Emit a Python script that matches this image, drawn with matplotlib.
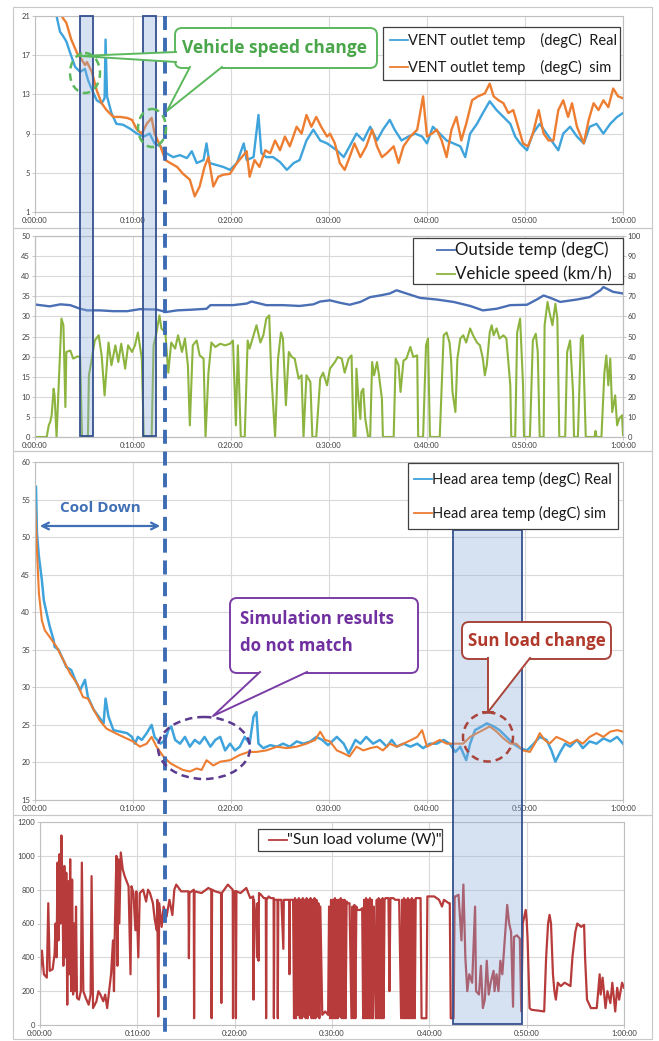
import matplotlib
matplotlib.use('Agg')
import matplotlib.pyplot as plt
from matplotlib.patches import Rectangle, FancyBboxPatch, Ellipse, Polygon

plt.rcParams['font.family'] = ['Lato', 'DejaVu Sans']

# ---- data (minutes, values) ----
time_labels = ['0:00:00', '0:10:00', '0:20:00', '0:30:00', '0:40:00', '0:50:00', '1:00:00']

vent_real_t = [2.2, 2.55, 2.9, 3.2, 3.6, 4.1, 4.6, 5.1, 5.4, 5.8, 6.3, 6.8, 7.1, 7.2, 7.35, 7.8, 8.3, 9.0, 9.7, 10.4,
               11.1, 11.7, 12.2, 12.8, 13.4, 14.1, 14.8, 15.5, 16.0, 16.5, 17.2, 17.5, 17.8, 18.5, 19.2, 19.9, 20.6,
               21.3, 21.6, 22.3, 22.8, 23.1, 23.6, 24.3, 25.0, 25.7, 26.4, 27.0, 27.7, 28.4, 29.1, 29.8,
               30.8, 31.5, 32.1, 32.8, 33.5, 34.2, 34.9, 35.5, 36.2, 36.7, 37.4, 38.1, 38.8, 39.5, 40.0, 40.6, 41.3,
               42.0, 42.7, 43.4, 43.9, 44.4, 45.1, 45.7, 46.4, 47.1, 47.8, 48.5, 49.0, 49.5, 50.2, 50.8, 51.5, 52.2,
               52.9, 53.4, 53.9, 54.6, 55.3, 56.0, 56.6, 57.3, 58.0, 58.7, 59.4, 60.0]
vent_real = [21.0, 19.4, 18.9, 18.4, 17.2, 15.8, 15.3, 15.6, 14.5, 13.5, 12.4, 12.1, 12.6, 18.6, 12.8, 11.1, 10.0, 9.9,
             9.5, 9.0, 8.7, 9.0, 8.0, 7.7, 7.0, 6.6, 6.8, 6.5, 7.2, 6.0, 6.3, 8.0, 6.0, 5.8, 5.6, 5.3, 6.0, 8.0, 6.3,
             6.6, 10.9, 7.0, 6.6, 6.6, 6.1, 5.3, 6.0, 6.3, 8.3, 9.4, 8.3, 8.0,
             7.3, 6.6, 7.7, 9.0, 8.3, 9.7, 8.3, 9.4, 10.4, 9.4, 8.3, 8.7, 9.0, 8.7, 8.0, 9.7, 9.0, 8.3, 8.0, 7.7, 6.6,
             9.0, 10.0, 11.1, 12.3, 11.4, 10.7, 10.0, 8.7, 8.0, 7.3, 9.0, 10.0, 9.0, 8.0, 7.3, 9.0, 9.7, 8.7, 8.0, 9.7,
             10.0, 9.0, 10.0, 10.7, 11.1]

vent_sim_t = [2.7, 3.2, 3.7, 4.3, 4.8, 5.1, 5.3, 5.8, 6.3, 6.8, 7.3, 8.0, 8.7, 9.4, 9.9, 10.4, 10.9, 11.4, 11.9, 12.2,
              12.8, 13.3, 13.8, 14.5, 15.1, 15.8, 16.3, 16.8, 17.3, 17.7, 18.2, 18.7, 19.2, 19.9, 20.6, 21.1, 21.6,
              21.9, 22.4, 22.9, 23.5, 24.0, 24.5, 25.0, 25.5, 26.0, 26.7, 27.2, 27.7, 28.2, 28.7, 29.2, 29.8, 30.1,
              30.6, 31.1, 31.6, 32.1, 32.6, 33.2, 33.8, 34.4, 34.9, 35.4, 35.9, 36.6, 37.1, 37.6, 38.3, 39.0, 39.6,
              40.0, 40.5, 41.0, 41.5, 42.0, 42.5, 43.0, 43.5, 44.0, 44.6, 45.2, 45.9, 46.4, 46.8, 47.3, 47.8, 48.3,
              48.8, 49.3, 49.8, 50.3, 50.8, 51.4, 51.9, 52.4, 52.9, 53.4, 53.9, 54.4, 54.8, 55.3, 56.0, 56.5, 57.0,
              57.5, 58.0, 58.5, 59.0, 59.5, 60.0]
vent_sim = [21.0, 20.3, 18.6, 17.2, 16.5, 16.0, 16.3, 15.3, 13.4, 12.1, 11.4, 10.7, 10.7, 10.6, 10.4, 9.4, 9.0, 10.0,
            10.6, 9.0, 7.7, 6.3, 6.0, 5.6, 4.9, 4.3, 2.6, 3.6, 5.6, 6.6, 3.6, 4.6, 4.8, 4.9, 6.0, 6.6, 7.2, 4.6, 6.3,
            5.6, 7.3, 7.0, 8.3, 7.3, 8.7, 7.7, 9.7, 9.0, 10.9, 9.7, 10.7, 9.7, 8.7, 9.0, 8.0, 6.0, 5.3, 6.6, 8.0, 6.6,
            7.7, 9.4, 7.7, 6.6, 7.0, 7.7, 6.0, 7.7, 8.7, 9.4, 12.8, 8.7, 9.0, 9.4, 8.3, 6.6, 9.4, 10.7, 8.3, 10.0,
            12.4, 12.8, 13.1, 14.1, 12.8, 12.4, 12.1, 11.1, 11.4, 9.7, 8.0, 7.7, 9.0, 11.4, 9.0, 8.3, 8.3, 11.4, 12.4,
            10.7, 12.1, 9.7, 8.0, 10.4, 12.1, 11.4, 12.4, 11.7, 13.6, 12.8, 12.6]

outside_t = [0.2, 1.5, 2.6, 3.6, 4.6, 5.3, 6.6, 8.0, 9.4, 10.7, 12.4, 13.4, 14.5, 16.2, 17.5, 17.9, 20.2, 21.6, 22.1,
             22.6, 23.6, 25.3, 27.0, 28.4, 29.1, 30.1, 31.1, 32.1, 33.2, 34.2, 35.2, 36.2, 36.9, 37.9, 39.3, 41.0,
             42.7, 44.4, 45.7, 47.1, 48.5, 50.2, 51.2, 51.9, 52.6, 53.6, 55.3, 56.6, 57.7, 58.0, 59.0, 60.0]
outside_temp = [32.9, 32.5, 33.0, 32.8, 31.9, 31.5, 31.5, 31.3, 31.3, 31.8, 31.7, 31.1, 31.5, 31.7, 31.9, 32.8, 32.8,
                33.2, 33.7, 33.4, 32.8, 32.8, 32.6, 33.0, 33.7, 34.0, 33.4, 32.9, 33.6, 34.8, 35.2, 35.7, 36.5, 35.7,
                34.6, 34.2, 33.6, 32.6, 31.5, 31.9, 32.8, 32.9, 34.2, 35.2, 34.6, 33.6, 34.2, 34.8, 36.5, 37.3, 36.1,
                35.7]

speed_t = [0.2, 1.2, 1.4, 1.55, 1.7, 1.9, 2.0, 2.2, 2.5, 2.7, 2.9, 3.1, 3.2, 3.6, 3.9, 4.3, 4.6, 4.8, 5.4, 5.5, 5.8,
           6.1, 6.5, 6.8, 7.1, 7.5, 7.8, 8.2, 8.5, 8.8, 9.2, 9.5, 9.9, 10.2, 10.5, 10.9, 11.1, 11.9, 12.1, 12.4, 12.7,
           12.9, 13.3, 13.6, 13.9, 14.3, 14.6, 15.0, 15.3, 15.6, 15.8, 16.1, 16.5, 16.8, 17.2, 17.4, 17.7, 18.0, 18.4,
           18.9, 19.4, 19.9, 20.2, 20.5, 20.7, 21.0, 21.4, 21.7, 21.9, 22.3, 22.6, 23.0, 23.3, 23.6, 23.9, 24.1, 24.5,
           24.8, 25.1, 25.3, 25.6, 25.9, 26.2, 26.5, 26.9, 27.2, 27.4, 27.7, 28.1, 28.3, 28.7, 29.1, 29.4, 29.8,
           30.1, 30.6, 30.9, 31.3, 31.6, 32.0, 32.3, 32.5, 32.7, 32.8, 33.0, 33.2, 33.3, 33.5, 33.7, 34.0, 34.2, 34.4,
           34.6, 34.9, 35.1, 35.4, 35.5, 36.6, 36.8, 37.1, 37.3, 37.6, 37.9, 38.3, 38.6, 39.0, 39.1, 39.6, 39.9, 40.1,
           40.3, 41.3, 41.7, 42.0, 42.3, 42.45, 42.6, 42.9, 43.1, 43.4, 43.7, 44.0, 44.4, 44.7, 45.1, 45.4, 45.7,
           45.9, 46.1, 46.4, 46.6, 46.8, 47.1, 47.4, 47.8, 48.1, 48.5, 48.6, 49.0, 49.2, 49.5, 49.8, 49.9, 50.5, 50.8,
           51.1, 51.3, 51.5, 51.9, 52.0, 52.3, 52.5, 52.8, 53.1, 53.3, 53.5, 54.1, 54.3, 54.6, 54.9, 55.0, 55.4, 55.7,
           55.9, 56.2, 57.1, 57.2, 57.3, 57.8, 58.1, 58.3, 58.5, 58.7, 58.9, 59.2, 59.4, 59.6, 59.9, 60.0]
speed = [0, 0, 5.8, 7.5, 10.8, 24, 20.7, 0, 35.7, 58.9, 55.6, 14.9, 42.3, 43, 39, 40, 40, 0, 0, 30.7, 39,
         48, 50.6, 40.6, 20.7, 47, 35.7, 45.6, 37.3, 46.4, 34, 45.6, 42.3, 45.6, 52, 39, 0, 0, 45.6, 52, 60.5,
         54, 52, 32, 47, 44, 50.6, 42.3, 49, 35.7, 5.8, 45.6, 48, 40.6, 39, 0, 32, 47, 44.8,
         46.4, 45.6, 46.4, 48, 5.8, 45.6, 0, 0, 48, 44, 50.6, 55.6, 47, 50.6, 58.9, 60.5, 32, 0,
         39, 52, 49, 15.8, 42.3, 39.8, 39, 29, 30.7, 0, 30.7, 27.4, 0, 0, 29, 32, 25.7,
         34, 37.3, 39.8, 39, 32, 39, 40.6, 0, 0, 34, 19, 9, 22.4, 24, 9, 0, 0, 37.3,
         30.7, 37.3, 30.7, 19, 0, 0, 39, 35.7, 22.4, 38, 39, 44.8, 39.8, 40.6, 0, 0, 45.6, 49,
         0, 0, 50.6, 52, 47, 39, 22.4, 12.4, 39, 49, 50.6, 47, 54, 50.6, 47, 45.6, 39,
         30.7, 35.7, 52, 55.6, 50.6, 54, 49, 50.6, 49, 25.7, 0, 0, 52, 58.9, 25.7, 0, 0, 48,
         51.4, 42.3, 0, 0, 55.6, 67.2, 62, 55.6, 66.3, 58.9, 0, 0, 42.3, 48, 22.4, 0, 0, 49,
         50.6, 0, 0, 3, 0, 0, 32, 40.6, 25.7, 39, 12.4, 20.7, 5.8, 9, 10.8, 1]

head_real_t = [0.1, 0.2, 0.4, 0.7, 0.9, 1.2, 1.5, 1.9, 2.0, 2.4, 2.9, 3.2, 3.7, 4.1, 4.6, 5.1, 5.4, 6.0, 6.5, 7.0, 7.2,
               7.5, 8.0, 8.7, 9.4, 9.9, 10.2, 10.5, 10.9, 11.4, 11.9, 12.2, 12.8, 13.3, 13.6, 13.9, 14.3, 14.8, 15.3,
               15.8, 16.3, 16.8, 17.3, 17.9, 18.4, 18.9, 19.4, 19.9, 20.4, 20.9, 21.4, 21.9, 22.3, 22.6, 22.8, 23.3,
               24.0, 24.7, 25.3, 26.0, 26.7, 27.4, 28.1, 28.7, 29.3, 29.9,
               30.8, 31.5, 32.0, 32.7, 33.2, 33.8, 34.5, 35.2, 35.9, 36.4, 36.9, 37.6, 38.3, 39.0, 39.6, 40.3, 41.0,
               41.7, 42.3, 42.9, 43.4, 44.0, 44.4, 44.9, 45.6, 46.1, 46.8, 47.4, 48.1, 48.8, 49.5, 50.2, 50.9, 51.5,
               52.2, 52.7, 53.1, 53.6, 54.1, 54.6, 55.3, 55.9, 56.6, 57.3, 58.0, 58.7, 59.4, 60.0]
head_real = [56.7, 50.5, 47.4, 44.3, 41.6, 39.8, 38.1, 36.3, 35.4, 35.0, 33.6, 32.7, 32.3, 31.0, 29.6, 31.0, 28.7, 27.0,
             26.1, 25.2, 28.5, 26.1, 24.3, 24.1, 23.9, 23.4, 22.5, 23.4, 23.0, 23.9, 25.0, 23.4, 22.5, 23.0, 24.3,
             24.8, 23.0, 22.5, 23.4, 22.1, 23.0, 22.5, 23.4, 22.1, 23.0, 23.4, 21.6, 22.5, 21.6, 22.1, 23.4, 22.5,
             26.1, 26.7, 22.5, 21.9, 22.3, 22.1, 22.5, 22.1, 22.8, 22.5, 22.8, 23.4, 23.0, 22.3,
             23.4, 22.5, 21.2, 23.0, 22.5, 23.4, 22.5, 23.0, 22.1, 23.0, 22.1, 22.5, 22.1, 22.5, 21.9, 22.5, 22.5,
             23.0, 22.5, 21.4, 22.1, 20.3, 22.5, 24.3, 24.8, 25.2, 24.8, 24.3, 23.4, 22.5, 21.9, 21.6, 22.5, 23.4,
             23.0, 21.6, 20.1, 21.4, 22.5, 22.1, 23.0, 21.9, 22.8, 22.5, 23.2, 22.8, 23.4, 22.5]

head_sim_t = [0.0, 0.2, 0.4, 0.7, 1.0, 1.5, 2.2, 2.9, 3.6, 4.3, 4.9, 5.4, 6.0, 6.6, 7.3, 8.2, 9.0, 10.0, 10.7, 11.4,
              11.9, 12.4, 13.1, 13.8, 14.5, 15.1, 15.8, 16.5, 17.0, 17.5, 18.2, 18.9, 19.9, 20.9, 21.8, 22.6, 23.6,
              24.7, 25.7, 26.7, 27.7, 28.6, 29.1, 29.6, 30.1, 30.8, 31.5, 32.1, 32.8, 33.5, 34.2, 34.9, 35.5, 36.2,
              36.9, 37.6, 38.4, 39.0, 39.5, 40.0, 40.6, 41.3, 42.0, 42.9, 43.7, 44.4, 45.1, 45.7, 46.4, 47.1, 47.8,
              48.5, 49.1, 49.8, 50.5, 51.0, 51.5, 52.0, 52.5, 53.2, 53.9, 54.6, 55.3, 55.9, 56.6, 57.3, 58.0, 58.7,
              59.4, 60.0]
head_sim = [54.5, 48.2, 42.5, 38.9, 37.6, 36.7, 35.4, 33.6, 31.8, 30.5, 28.7, 28.5, 27.0, 25.6, 24.5, 23.9, 23.4,
            22.8, 22.1, 22.5, 23.4, 22.1, 20.8, 19.9, 19.4, 19.0, 18.8, 19.2, 19.0, 20.3, 19.6, 20.1, 20.3, 21.0,
            21.4, 21.4, 21.6, 22.1, 21.9, 22.1, 22.5, 23.0, 24.1, 23.0, 22.8, 21.6, 21.2, 20.8, 22.1, 21.6, 21.9,
            22.1, 21.6, 22.5, 22.1, 22.5, 23.0, 23.4, 24.3, 22.1, 22.5, 23.0, 22.5, 22.5, 22.5, 23.4, 23.9, 24.3,
            24.8, 24.1, 23.2, 22.5, 22.5, 21.6, 21.4, 22.5, 23.9, 23.0, 22.5, 23.4, 23.0, 22.5, 23.0, 22.5, 23.4,
            23.9, 23.4, 24.1, 24.3, 24.1]

sun_t = [0.0, 0.2, 0.4, 0.7, 0.85, 1.0, 1.3, 1.5, 1.6, 1.7, 1.8, 1.9, 2.0, 2.1, 2.2, 2.3, 2.4, 2.5, 2.6, 2.7, 2.8, 2.9,
         3.0, 3.1, 3.2, 3.3, 3.4, 3.5, 3.6, 3.7, 3.8, 4.0, 4.2, 4.3, 4.45, 4.7, 5.0, 5.2, 5.3, 5.45, 5.8, 6.0, 6.2,
         6.5, 6.7, 6.9, 7.1, 7.3, 7.5, 7.6, 7.7, 7.85, 7.95, 8.05, 8.15, 8.3, 8.5, 8.7, 8.9, 9.1, 9.3, 9.4, 9.6,
         9.8, 9.9, 10.1, 10.25, 10.6, 10.9, 11.1, 11.3, 11.6, 11.8, 12.0, 12.05, 12.15, 12.25, 12.5, 12.7, 13.0,
         13.3, 13.6, 13.8, 14.0,
         14.5, 15.0, 15.25, 15.3, 15.35, 15.8, 15.83, 15.88, 16.6, 17.3, 17.6, 17.63, 17.68, 18.0, 18.6, 18.63,
         18.68, 19.3, 19.8, 19.83, 19.88, 20.1, 20.13, 20.18, 20.6, 21.2, 21.6, 21.9, 21.93, 21.98, 22.2, 22.3,
         22.35, 22.45, 22.5, 22.7, 23.0, 23.2, 23.23, 23.28, 23.5, 23.7, 24.0, 24.03, 24.08, 24.4, 24.43, 24.48,
         24.8, 25.0, 25.05, 25.6, 25.63, 25.68,
         26.0, 26.1, 26.2, 26.3, 26.4, 26.5, 26.6, 26.7, 26.8, 26.9, 27.0, 27.1, 27.2, 27.3, 27.4, 27.5, 27.6,
         27.7, 27.8, 27.9, 28.0, 28.1, 28.2, 28.3, 28.4, 28.5, 28.6, 28.7, 28.8, 29.0, 29.3, 29.6,
         29.7, 29.8, 29.9, 30.0, 30.1, 30.2, 30.3, 30.4, 30.5, 30.6, 30.7, 30.8, 30.9, 31.0, 31.1, 31.2, 31.3,
         31.4, 31.5, 31.6, 31.8, 32.0, 32.1, 32.2, 32.3, 32.4, 32.5, 32.6, 32.9, 33.1,
         33.2, 33.3, 33.4, 33.5, 33.6, 33.7, 33.8, 33.9, 34.0, 34.1, 34.2, 34.3, 34.5,
         34.6, 34.7, 34.8, 34.9, 35.0, 35.1, 35.2, 35.3, 35.4, 35.5, 35.8, 35.9, 36.0, 36.3, 36.5, 36.9,
         37.1, 37.2, 37.3, 37.4, 37.5, 37.6, 37.7, 37.8, 37.9, 38.0, 38.1, 38.2, 38.3, 38.4, 38.5,
         38.6, 39.1, 39.2, 39.7, 39.8, 40.5, 41.0, 41.3, 41.5, 42.0, 42.1, 42.2, 42.5, 42.6,
         42.7, 43.0, 43.3, 43.5, 43.7, 43.9, 44.1, 44.4, 44.7, 44.8, 45.1, 45.3, 45.5, 45.7, 45.9, 46.1, 46.3,
         46.6, 46.7, 46.9, 47.1, 47.3, 47.5, 47.8, 48.0, 48.2, 48.4, 48.6, 48.7, 49.0, 49.3, 49.45, 49.6, 49.9,
         50.0, 50.1, 50.3, 50.5, 51.2, 51.8, 52.0, 52.2, 52.35, 52.5, 52.7, 52.85, 53.0, 53.2, 53.5, 53.9, 54.2,
         54.5, 54.7, 55.0, 55.2, 55.6, 55.9, 56.0, 56.2, 56.6, 57.2, 57.5, 57.6, 57.8, 58.1, 58.3, 58.6, 58.8,
         59.1, 59.3, 59.5, 59.8, 60.0]
sun_load = [296, 440, 300, 280, 720, 320, 330, 420, 600, 400, 960, 500, 1010, 600, 1120, 800, 350, 940, 400, 900, 120,
            850, 300, 980, 200, 860, 180, 600, 200, 700, 160, 150, 200, 960, 200, 160, 120, 180, 880, 100, 140, 200,
            180, 140, 180, 100, 200, 300, 500, 200, 600, 1000, 350, 980, 600, 1020, 920, 880, 850, 820, 300, 820,
            780, 560, 790, 400, 780, 800, 730, 800, 780, 720, 620, 560, 740, 50, 720, 580, 700, 640, 740, 650, 800,
            830,
            790, 790, 790, 395, 780, 800, 40, 790, 780, 810, 800, 40, 800, 790, 780, 130, 780, 830, 800, 40, 790,
            790, 40, 790, 780, 810, 750, 760, 150, 740, 600, 400, 720, 380, 780, 770, 750, 750, 40, 740, 760, 750,
            750, 40, 740, 740, 40, 740, 740, 450, 740, 740, 300, 740,
            740, 40, 750, 40, 740, 60, 750, 40, 740, 40, 750, 50, 740, 40, 750, 40, 740, 60, 750, 40, 740, 40, 750,
            40, 740, 50, 720, 40, 700, 60, 80, 60,
            700, 40, 740, 40, 740, 40, 750, 40, 740, 40, 740, 50, 750, 40, 740, 40, 740, 40, 730, 720, 720,
            40, 700, 40, 710, 40, 700, 680, 680, 690,
            40, 740, 40, 750, 40, 740, 40, 750, 40, 740, 40, 700, 40,
            740, 40, 750, 40, 740, 40, 750, 40, 740, 750, 750, 200, 750, 750, 740, 740,
            40, 740, 40, 750, 40, 740, 40, 750, 40, 740, 40, 750, 40, 740, 40,
            750, 750, 40, 40, 760, 760, 740, 700, 740, 720, 720, 40, 40, 760,
            760, 770, 500, 830, 400, 200, 300, 250, 700, 200, 180, 350, 100, 150, 380, 180, 250, 320, 200, 300, 200,
            380, 300, 550, 710, 600, 550, 108, 520, 530, 510, 80, 600, 680, 620, 500, 99, 90, 85, 80, 400, 600, 651,
            600, 300, 200, 150, 250, 230, 250, 240, 230, 400, 550, 600, 580, 592, 400, 150, 100, 100, 300, 180, 280,
            100, 200, 130, 250, 80, 220, 150, 250, 220]

# annotation spans (minutes)
speed_change_spans = [(4.6, 5.9), (11.0, 12.3)]
cool_down_end = 13.3
sun_change_span = (42.7, 49.7)

# ---- colours ----
c_real = '#3fa3dc'
c_sim = '#ed7d31'
c_out = '#4a6fb5'
c_speed = '#8cb43f'
c_sun = '#b83b3b'
c_grid = '#d9d9d9'

W, H = 659, 1041
fig = plt.figure(figsize=(W / 100, H / 100), dpi=100)


def frac(l, t, r, b):
    return [l / W, 1 - b / H, (r - l) / W, (b - t) / H]


def style(ax, yticks):
    ax.set_xlim(0, 60)
    ax.set_xticks(range(0, 61, 10))
    ax.set_xticklabels(time_labels)
    ax.set_ylim(yticks[0], yticks[-1])
    ax.set_yticks(yticks)
    ax.grid(color=c_grid, lw=0.8)
    ax.set_axisbelow(True)
    for s in ax.spines.values():
        s.set_color('#bfbfbf')
        s.set_linewidth(0.8)
    ax.tick_params(length=2, width=0.6, color='#bfbfbf', labelsize=5.5, labelcolor='#404040', pad=1.5)


# panel 1 : vent outlet
ax1 = fig.add_axes(frac(35, 16, 623, 212))
l1, = ax1.plot(vent_real_t, vent_real, color=c_real, lw=1.7)
l2, = ax1.plot(vent_sim_t, vent_sim, color=c_sim, lw=1.7)
style(ax1, [1, 5, 9, 13, 17, 21])

# panel 2 : outside temp / vehicle speed
ax2 = fig.add_axes(frac(35, 236, 623, 437))
ax2r = ax2.twinx()
l3, = ax2.plot(outside_t, outside_temp, color=c_out, lw=1.7)
l4, = ax2r.plot(speed_t, speed, color=c_speed, lw=1.5)
style(ax2, list(range(0, 51, 5)))
ax2r.set_ylim(0, 100)
ax2r.set_yticks(range(0, 101, 10))
ax2r.tick_params(length=2, width=0.6, color='#bfbfbf', labelsize=5.5, labelcolor='#404040', pad=1.5)
for s in ax2r.spines.values():
    s.set_color('#bfbfbf')
    s.set_linewidth(0.8)

# panel 3 : head area temp
ax3 = fig.add_axes(frac(35, 462, 623, 800))
l5, = ax3.plot(head_real_t, head_real, color=c_real, lw=1.8)
l6, = ax3.plot(head_sim_t, head_sim, color=c_sim, lw=1.5)
style(ax3, list(range(15, 61, 5)))

# panel 4 : sun load
ax4 = fig.add_axes(frac(40, 822, 624, 1025))
l7, = ax4.plot(sun_t, sun_load, color=c_sun, lw=1.6)
style(ax4, list(range(0, 1201, 200)))

# ---- overlay annotations (pixel coords) ----
ov = fig.add_axes([0, 0, 1, 1], zorder=10)
ov.set_xlim(0, W)
ov.set_ylim(H, 0)
ov.axis('off')


def tx(t):
    return 35 + t * 588 / 60


for top, bot in [(7, 228), (228, 451), (451, 815), (815, 1039)]:
    ov.add_patch(Rectangle((13, top), 639, bot - top, fill=False, ec='#c8c8c8', lw=0.8))


# Excel-like legends: frame, short line sample, label
def legend_box(frame, x_line, rows, size):
    l, t, r, b = frame
    ov.add_patch(Rectangle((l, t), r - l, b - t, fc='white', ec='#404040', lw=0.9, zorder=3))
    for y, line, label in rows:
        ov.plot([x_line, x_line + 18], [y, y], color=line.get_color(), lw=1.3, zorder=4)
        ov.text(x_line + 18, y, label, fontsize=size, va='center', ha='left', color='#1a1a1a', zorder=4)


legend_box((383, 27, 620, 80), 390, [(40, l1, 'VENT outlet temp    (degC)  Real'),
                                     (67, l2, 'VENT outlet temp    (degC)  sim')], 10.5)
legend_box((413, 238, 623, 284), 437, [(250, l3, 'Outside temp (degC)'),
                                       (274, l4, 'Vehicle speed (km/h)')], 12.2)
legend_box((408, 463, 618, 529), 414, [(479, l5, 'Head area temp (degC) Real'),
                                       (513, l6, 'Head area temp (degC) sim')], 10.5)
legend_box((258, 829, 442, 851), 269, [(840, l7, '"Sun load volume (W)"')], 11.3)

for a, b in speed_change_spans:
    ov.add_patch(Rectangle((tx(a), 16), tx(b) - tx(a), 420, fc=(0.55, 0.68, 0.86, 0.35), ec='#34508f', lw=1.3))
a, b = sun_change_span
ov.add_patch(Rectangle((tx(a), 530), tx(b) - tx(a), 494, fc=(0.55, 0.68, 0.86, 0.35), ec='#34508f', lw=1.3))

ov.plot([tx(cool_down_end)] * 2, [16, 1034], color='#3e6cb4', lw=2.8, ls=(0, (3.6, 2.0)))


def callout(l, t, r, b, color, tails, lw=1.4):
    ov.add_patch(FancyBboxPatch((l, t), r - l, b - t, boxstyle='round,pad=0,rounding_size=7',
                                fc='white', ec=color, lw=lw, zorder=3))
    for p1, p2, tip in tails:
        ov.add_patch(Polygon([p1, p2, tip], closed=True, fc='white', ec='none', zorder=4))
        ov.plot([p1[0], tip[0], p2[0]], [p1[1], tip[1], p2[1]], color=color, lw=lw, zorder=5)


callout_font = dict(family=['Open Sans', 'DejaVu Sans'], fontweight='bold', zorder=6)

# vehicle speed change
green = '#5cb85c'
ov.add_patch(Ellipse((85, 73), 30, 40, fill=False, ec=green, lw=1.8, ls=(0, (3, 2)), zorder=2))
ov.add_patch(Ellipse((152, 128), 28, 38, fill=False, ec=green, lw=1.8, ls=(0, (3, 2)), zorder=2))
callout(175, 28, 377, 68, green, [((176, 52), (176, 62), (80, 56)), ((190, 67), (222, 67), (167, 111))])
ov.text(275, 48, 'Vehicle speed change', color='#4aa64a', fontsize=12.5, ha='center', va='center',
        **callout_font)

# cool down
ov.annotate('', xy=(37, 526), xytext=(163, 526),
            arrowprops=dict(arrowstyle='<->', color='#3f6fb5', lw=1.6, mutation_scale=12))
ov.text(100, 508, 'Cool Down', color='#3f6fb5', fontsize=11, ha='center', va='center', **callout_font)

# simulation results do not match
purple = '#7a3ca5'
ov.add_patch(Ellipse((204, 748), 92, 62, fill=False, ec='#5b3a8f', lw=1.8, ls=(0, (3, 2)), zorder=2))
callout(230, 598, 418, 673, purple, [((260, 672), (307, 672), (213, 716))])
ov.text(240, 619, 'Simulation results', color='#7030a0', fontsize=12.2, va='center', **callout_font)
ov.text(240, 646, 'do not match', color='#7030a0', fontsize=12.2, va='center', **callout_font)

# sun load change
red = '#a9443a'
ov.add_patch(Ellipse((488, 737), 50, 49, fill=False, ec=red, lw=1.8, ls=(0, (3, 2)), zorder=2))
callout(462, 622, 611, 659, red, [((488, 658), (530, 658), (488, 712))])
ov.plot([483, 493], [712, 712], color=red, lw=1.4, zorder=5)
ov.text(537, 641, 'Sun load change', color='#b0392b', fontsize=12.2, ha='center', va='center', **callout_font)

fig.savefig('out.png', dpi=100, facecolor='white')
